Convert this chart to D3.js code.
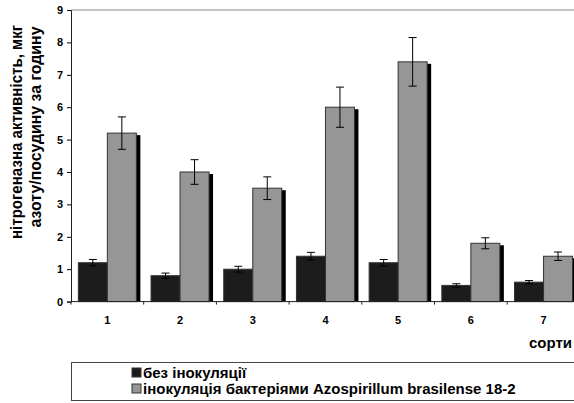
<!DOCTYPE html>
<head>
  <meta charset="utf-8">
  <style>
    body { margin: 0; background: #fff; }
    svg text { font-family: "Liberation Sans", Arial, sans-serif; font-weight: bold; fill: #000; }
  </style>
</head>
<body>
  <svg width="574" height="403" id="chart"></svg>
  <script src="https://d3js.org/d3.v7.min.js"></script>
  <script>
    // values
    const sorts = ["1", "2", "3", "4", "5", "6", "7"];
    const seriesNames = ["без інокуляції", "інокуляція бактеріями Azospirillum brasilense 18-2"];
    const noInoc = [1.2, 0.8, 1.0, 1.4, 1.2, 0.5, 0.6];
    const noInocErr = [0.1, 0.08, 0.09, 0.12, 0.1, 0.05, 0.05];
    const inoc = [5.2, 4.0, 3.5, 6.0, 7.4, 1.8, 1.4];
    const inocErr = [0.5, 0.38, 0.35, 0.62, 0.75, 0.17, 0.13];
    const yTicks = [0, 1, 2, 3, 4, 5, 6, 7, 8, 9];

    const colors = ["#1c1c1c", "#969696"];
    const svg = d3.select("#chart");

    const x = d3.scaleBand().domain(sorts).range([71, 71 + 7 * 72.7]);
    const xs = d3.scaleBand().domain([0, 1]).range([0, x.bandwidth()]).paddingOuter(0.253);
    const y = d3.scaleLinear().domain([0, 9]).range([301.6, 10]);

    // top border of the plot area
    svg.append("line")
      .attr("x1", 71).attr("x2", 574).attr("y1", y(9)).attr("y2", y(9))
      .attr("stroke", "#888").attr("stroke-width", 1);

    const rows = sorts.map((s, i) => ({
      s, vals: [{k: 0, v: noInoc[i], e: noInocErr[i]}, {k: 1, v: inoc[i], e: inocErr[i]}]
    }));

    const g = svg.append("g").selectAll("g").data(rows).join("g")
      .attr("transform", d => `translate(${x(d.s)},0)`);

    // shadows
    g.selectAll(".shadow").data(d => d.vals).join("rect")
      .attr("class", "shadow")
      .attr("x", d => xs(d.k) + 4)
      .attr("y", d => y(d.v) + 2)
      .attr("width", xs.bandwidth())
      .attr("height", d => y(0) - y(d.v) - 2)
      .attr("fill", "#000");

    g.selectAll(".bar").data(d => d.vals).join("rect")
      .attr("class", "bar")
      .attr("x", d => xs(d.k))
      .attr("y", d => y(d.v))
      .attr("width", xs.bandwidth())
      .attr("height", d => y(0) - y(d.v))
      .attr("fill", d => colors[d.k])
      .attr("stroke", "#333").attr("stroke-width", 1);

    // error bars
    const eb = g.selectAll(".err").data(d => d.vals).join("g").attr("class", "err")
      .attr("transform", d => `translate(${xs(d.k) + xs.bandwidth() / 2},0)`);
    eb.append("line").attr("y1", d => y(d.v + d.e)).attr("y2", d => y(d.v - d.e))
      .attr("stroke", "#000");
    eb.append("line").attr("x1", -4).attr("x2", 4)
      .attr("y1", d => y(d.v + d.e)).attr("y2", d => y(d.v + d.e)).attr("stroke", "#000");
    eb.append("line").attr("x1", -4).attr("x2", 4)
      .attr("y1", d => y(d.v - d.e)).attr("y2", d => y(d.v - d.e)).attr("stroke", "#000");

    // y axis
    const yAxis = svg.append("g").attr("transform", "translate(71,0)")
      .call(d3.axisLeft(y).tickValues(yTicks).tickSize(4).tickPadding(4));
    yAxis.select(".domain").attr("stroke", "#222");
    yAxis.selectAll("text").style("font-size", "11px");

    // x axis: ticks between categories
    const xAxisY = y(0);
    svg.append("line").attr("x1", 71).attr("x2", 574).attr("y1", xAxisY).attr("y2", xAxisY)
      .attr("stroke", "#222");
    svg.append("g").selectAll("line").data(sorts).join("line")
      .attr("x1", d => x(d)).attr("x2", d => x(d))
      .attr("y1", xAxisY).attr("y2", xAxisY + 3).attr("stroke", "#222");
    svg.append("g").selectAll("text").data(sorts).join("text")
      .attr("x", d => x(d) + x.bandwidth() / 2)
      .attr("y", 324)
      .attr("text-anchor", "middle")
      .style("font-size", "11px")
      .text(d => d);

    svg.append("text").attr("x", 572).attr("y", 348).attr("text-anchor", "end")
      .style("font-size", "15px").text("сорти");

    // y label
    svg.append("text").attr("transform", "translate(22,132) rotate(-90)")
      .attr("text-anchor", "middle").style("font-size", "16px")
      .attr("textLength", 214).attr("lengthAdjust", "spacingAndGlyphs")
      .text("нітрогеназна активність, мкг");
    svg.append("text").attr("transform", "translate(41,127) rotate(-90)")
      .attr("text-anchor", "middle").style("font-size", "16px")
      .attr("textLength", 201).attr("lengthAdjust", "spacingAndGlyphs")
      .text("азоту/посудину за годину");

    // legend
    svg.append("rect").attr("x", 71.5).attr("y", 362.5).attr("width", 600).attr("height", 38)
      .attr("fill", "#fff").attr("stroke", "#444");
    const leg = svg.append("g").selectAll("g").data(seriesNames).join("g")
      .attr("transform", (d, i) => `translate(132,${368 + i * 16})`);
    leg.append("rect").attr("width", 9).attr("height", 9)
      .attr("fill", (d, i) => colors[i]).attr("stroke", "#333");
    leg.append("text").attr("x", 11).attr("y", 10).style("font-size", "15px").text(d => d);
  </script>
</body>
